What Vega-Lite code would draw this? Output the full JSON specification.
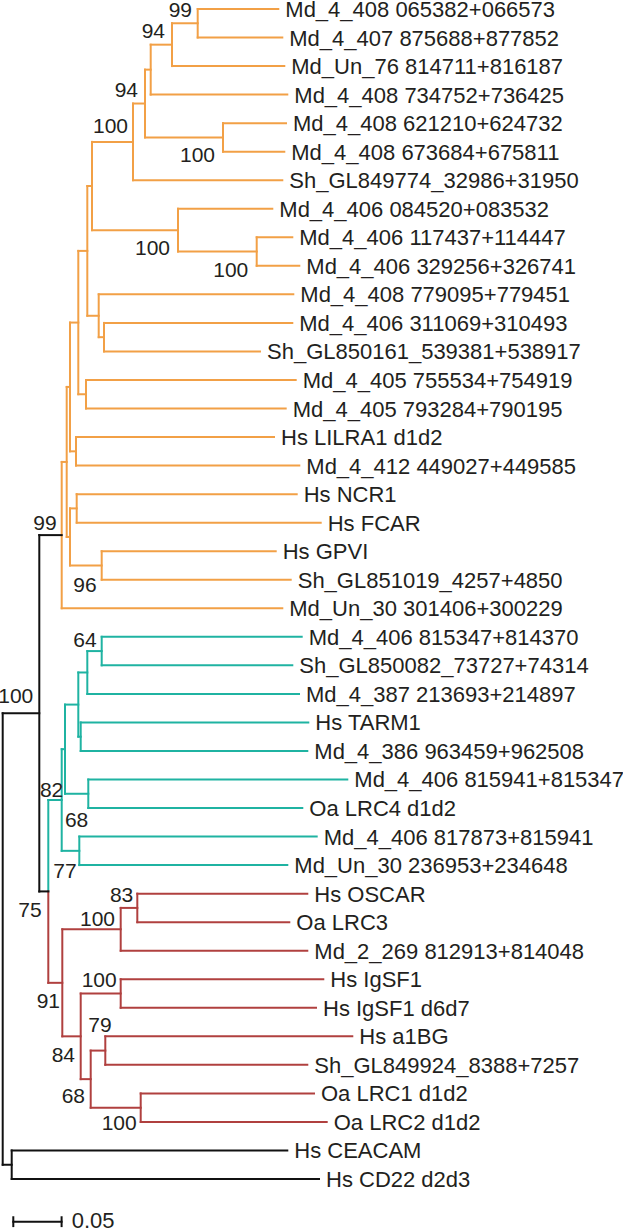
{
  "$schema": "https://vega.github.io/schema/vega-lite/v6.json",
  "width": 623,
  "height": 1228,
  "padding": 0,
  "autosize": {"type": "none"},
  "background": "white",
  "config": {"view": {"stroke": null}},
  "datasets": {
    "seg": [
      {"x": 0.20186, "x2": 0.28530, "y": 1, "y2": 1, "c": "o"},
      {"x": 0.20186, "x2": 0.28944, "y": 2, "y2": 2, "c": "o"},
      {"x": 0.17526, "x2": 0.29151, "y": 3, "y2": 3, "c": "o"},
      {"x": 0.15321, "x2": 0.29462, "y": 4, "y2": 4, "c": "o"},
      {"x": 0.22805, "x2": 0.29327, "y": 5, "y2": 5, "c": "o"},
      {"x": 0.22805, "x2": 0.29151, "y": 6, "y2": 6, "c": "o"},
      {"x": 0.13489, "x2": 0.28944, "y": 7, "y2": 7, "c": "o"},
      {"x": 0.18147, "x2": 0.27909, "y": 8, "y2": 8, "c": "o"},
      {"x": 0.26294, "x2": 0.29979, "y": 9, "y2": 9, "c": "o"},
      {"x": 0.26294, "x2": 0.30704, "y": 10, "y2": 10, "c": "o"},
      {"x": 0.09938, "x2": 0.30083, "y": 11, "y2": 11, "c": "o"},
      {"x": 0.10487, "x2": 0.29979, "y": 12, "y2": 12, "c": "o"},
      {"x": 0.10487, "x2": 0.26636, "y": 13, "y2": 13, "c": "o"},
      {"x": 0.08623, "x2": 0.30331, "y": 14, "y2": 14, "c": "o"},
      {"x": 0.08623, "x2": 0.29296, "y": 15, "y2": 15, "c": "o"},
      {"x": 0.07588, "x2": 0.28085, "y": 16, "y2": 16, "c": "o"},
      {"x": 0.07588, "x2": 0.30704, "y": 17, "y2": 17, "c": "o"},
      {"x": 0.07660, "x2": 0.30435, "y": 18, "y2": 18, "c": "o"},
      {"x": 0.07660, "x2": 0.32919, "y": 19, "y2": 19, "c": "o"},
      {"x": 0.10248, "x2": 0.28261, "y": 20, "y2": 20, "c": "o"},
      {"x": 0.10248, "x2": 0.29814, "y": 21, "y2": 21, "c": "o"},
      {"x": 0.06108, "x2": 0.28944, "y": 22, "y2": 22, "c": "o"},
      {"x": 0.17526, "x2": 0.20186, "y": 1.5, "y2": 1.5, "c": "o"},
      {"x": 0.15321, "x2": 0.17526, "y": 2.25, "y2": 2.25, "c": "o"},
      {"x": 0.14731, "x2": 0.15321, "y": 3.125, "y2": 3.125, "c": "o"},
      {"x": 0.14731, "x2": 0.22805, "y": 5.5, "y2": 5.5, "c": "o"},
      {"x": 0.13489, "x2": 0.14731, "y": 4.3125, "y2": 4.3125, "c": "o"},
      {"x": 0.09244, "x2": 0.13489, "y": 5.65625, "y2": 5.65625, "c": "o"},
      {"x": 0.18147, "x2": 0.26294, "y": 9.5, "y2": 9.5, "c": "o"},
      {"x": 0.09244, "x2": 0.18147, "y": 8.75, "y2": 8.75, "c": "o"},
      {"x": 0.08758, "x2": 0.09244, "y": 7.203125, "y2": 7.203125, "c": "o"},
      {"x": 0.09938, "x2": 0.10487, "y": 12.5, "y2": 12.5, "c": "o"},
      {"x": 0.08758, "x2": 0.09938, "y": 11.75, "y2": 11.75, "c": "o"},
      {"x": 0.07826, "x2": 0.08758, "y": 9.4765625, "y2": 9.4765625, "c": "o"},
      {"x": 0.07826, "x2": 0.08623, "y": 14.5, "y2": 14.5, "c": "o"},
      {"x": 0.06967, "x2": 0.07826, "y": 11.98828, "y2": 11.98828, "c": "o"},
      {"x": 0.06967, "x2": 0.07588, "y": 16.5, "y2": 16.5, "c": "o"},
      {"x": 0.06625, "x2": 0.06967, "y": 14.24414, "y2": 14.24414, "c": "o"},
      {"x": 0.06967, "x2": 0.07660, "y": 18.5, "y2": 18.5, "c": "o"},
      {"x": 0.06967, "x2": 0.10248, "y": 20.5, "y2": 20.5, "c": "o"},
      {"x": 0.06625, "x2": 0.06967, "y": 19.5, "y2": 19.5, "c": "o"},
      {"x": 0.06108, "x2": 0.06625, "y": 16.87207, "y2": 16.87207, "c": "o"},
      {"x": 0.20186, "x2": 0.20186, "y": 1, "y2": 2, "c": "o"},
      {"x": 0.17526, "x2": 0.17526, "y": 1.5, "y2": 3, "c": "o"},
      {"x": 0.15321, "x2": 0.15321, "y": 2.25, "y2": 4, "c": "o"},
      {"x": 0.22805, "x2": 0.22805, "y": 5, "y2": 6, "c": "o"},
      {"x": 0.14731, "x2": 0.14731, "y": 3.125, "y2": 5.5, "c": "o"},
      {"x": 0.13489, "x2": 0.13489, "y": 4.3125, "y2": 7, "c": "o"},
      {"x": 0.26294, "x2": 0.26294, "y": 9, "y2": 10, "c": "o"},
      {"x": 0.18147, "x2": 0.18147, "y": 8, "y2": 9.5, "c": "o"},
      {"x": 0.09244, "x2": 0.09244, "y": 5.65625, "y2": 8.75, "c": "o"},
      {"x": 0.10487, "x2": 0.10487, "y": 12, "y2": 13, "c": "o"},
      {"x": 0.09938, "x2": 0.09938, "y": 11, "y2": 12.5, "c": "o"},
      {"x": 0.08758, "x2": 0.08758, "y": 7.203125, "y2": 11.75, "c": "o"},
      {"x": 0.08623, "x2": 0.08623, "y": 14, "y2": 15, "c": "o"},
      {"x": 0.07826, "x2": 0.07826, "y": 9.4765625, "y2": 14.5, "c": "o"},
      {"x": 0.07588, "x2": 0.07588, "y": 16, "y2": 17, "c": "o"},
      {"x": 0.06967, "x2": 0.06967, "y": 11.98828, "y2": 16.5, "c": "o"},
      {"x": 0.07660, "x2": 0.07660, "y": 18, "y2": 19, "c": "o"},
      {"x": 0.10248, "x2": 0.10248, "y": 20, "y2": 21, "c": "o"},
      {"x": 0.06967, "x2": 0.06967, "y": 18.5, "y2": 20.5, "c": "o"},
      {"x": 0.06625, "x2": 0.06625, "y": 14.24414, "y2": 19.5, "c": "o"},
      {"x": 0.06108, "x2": 0.06108, "y": 16.87207, "y2": 22, "c": "o"},
      {"x": 0.10248, "x2": 0.30952, "y": 23, "y2": 23, "c": "t"},
      {"x": 0.10248, "x2": 0.29979, "y": 24, "y2": 24, "c": "t"},
      {"x": 0.08758, "x2": 0.30673, "y": 25, "y2": 25, "c": "t"},
      {"x": 0.08075, "x2": 0.31636, "y": 26, "y2": 26, "c": "t"},
      {"x": 0.08075, "x2": 0.31532, "y": 27, "y2": 27, "c": "t"},
      {"x": 0.08861, "x2": 0.35673, "y": 28, "y2": 28, "c": "t"},
      {"x": 0.08861, "x2": 0.31014, "y": 29, "y2": 29, "c": "t"},
      {"x": 0.07930, "x2": 0.32505, "y": 30, "y2": 30, "c": "t"},
      {"x": 0.07930, "x2": 0.29462, "y": 31, "y2": 31, "c": "t"},
      {"x": 0.08758, "x2": 0.10248, "y": 23.5, "y2": 23.5, "c": "t"},
      {"x": 0.07826, "x2": 0.08758, "y": 24.25, "y2": 24.25, "c": "t"},
      {"x": 0.07826, "x2": 0.08075, "y": 26.5, "y2": 26.5, "c": "t"},
      {"x": 0.06449, "x2": 0.07826, "y": 25.375, "y2": 25.375, "c": "t"},
      {"x": 0.06449, "x2": 0.08861, "y": 28.5, "y2": 28.5, "c": "t"},
      {"x": 0.06108, "x2": 0.06449, "y": 26.9375, "y2": 26.9375, "c": "t"},
      {"x": 0.06108, "x2": 0.07930, "y": 30.5, "y2": 30.5, "c": "t"},
      {"x": 0.04720, "x2": 0.06108, "y": 28.71875, "y2": 28.71875, "c": "t"},
      {"x": 0.10248, "x2": 0.10248, "y": 23, "y2": 24, "c": "t"},
      {"x": 0.08758, "x2": 0.08758, "y": 23.5, "y2": 25, "c": "t"},
      {"x": 0.08075, "x2": 0.08075, "y": 26, "y2": 27, "c": "t"},
      {"x": 0.07826, "x2": 0.07826, "y": 24.25, "y2": 26.5, "c": "t"},
      {"x": 0.08861, "x2": 0.08861, "y": 28, "y2": 29, "c": "t"},
      {"x": 0.06449, "x2": 0.06449, "y": 25.375, "y2": 28.5, "c": "t"},
      {"x": 0.07930, "x2": 0.07930, "y": 30, "y2": 31, "c": "t"},
      {"x": 0.06108, "x2": 0.06108, "y": 26.9375, "y2": 30.5, "c": "t"},
      {"x": 0.04720, "x2": 0.04720, "y": 28.71875, "y2": 31.921875, "c": "t"},
      {"x": 0.13934, "x2": 0.31532, "y": 32, "y2": 32, "c": "r"},
      {"x": 0.13934, "x2": 0.29669, "y": 33, "y2": 33, "c": "r"},
      {"x": 0.12215, "x2": 0.31532, "y": 34, "y2": 34, "c": "r"},
      {"x": 0.12215, "x2": 0.33188, "y": 35, "y2": 35, "c": "r"},
      {"x": 0.12215, "x2": 0.32433, "y": 36, "y2": 36, "c": "r"},
      {"x": 0.10621, "x2": 0.36190, "y": 37, "y2": 37, "c": "r"},
      {"x": 0.10621, "x2": 0.31532, "y": 38, "y2": 38, "c": "r"},
      {"x": 0.14286, "x2": 0.32226, "y": 39, "y2": 39, "c": "r"},
      {"x": 0.14286, "x2": 0.33540, "y": 40, "y2": 40, "c": "r"},
      {"x": 0.12215, "x2": 0.13934, "y": 32.5, "y2": 32.5, "c": "r"},
      {"x": 0.06170, "x2": 0.12215, "y": 33.25, "y2": 33.25, "c": "r"},
      {"x": 0.08075, "x2": 0.12215, "y": 35.5, "y2": 35.5, "c": "r"},
      {"x": 0.09110, "x2": 0.10621, "y": 37.5, "y2": 37.5, "c": "r"},
      {"x": 0.09110, "x2": 0.14286, "y": 39.5, "y2": 39.5, "c": "r"},
      {"x": 0.08075, "x2": 0.09110, "y": 38.5, "y2": 38.5, "c": "r"},
      {"x": 0.06170, "x2": 0.08075, "y": 37, "y2": 37, "c": "r"},
      {"x": 0.04720, "x2": 0.06170, "y": 35.125, "y2": 35.125, "c": "r"},
      {"x": 0.13934, "x2": 0.13934, "y": 32, "y2": 33, "c": "r"},
      {"x": 0.12215, "x2": 0.12215, "y": 32.5, "y2": 34, "c": "r"},
      {"x": 0.12215, "x2": 0.12215, "y": 35, "y2": 36, "c": "r"},
      {"x": 0.10621, "x2": 0.10621, "y": 37, "y2": 38, "c": "r"},
      {"x": 0.14286, "x2": 0.14286, "y": 39, "y2": 40, "c": "r"},
      {"x": 0.09110, "x2": 0.09110, "y": 37.5, "y2": 39.5, "c": "r"},
      {"x": 0.08075, "x2": 0.08075, "y": 35.5, "y2": 38.5, "c": "r"},
      {"x": 0.06170, "x2": 0.06170, "y": 33.25, "y2": 37, "c": "r"},
      {"x": 0.04720, "x2": 0.04720, "y": 31.921875, "y2": 35.125, "c": "r"},
      {"x": 0.03789, "x2": 0.06108, "y": 19.43604, "y2": 19.43604, "c": "k"},
      {"x": 0.03789, "x2": 0.04720, "y": 31.921875, "y2": 31.921875, "c": "k"},
      {"x": 0.03789, "x2": 0.03789, "y": 19.43604, "y2": 31.921875, "c": "k"},
      {"x": 0, "x2": 0.03789, "y": 25.67896, "y2": 25.67896, "c": "k"},
      {"x": 0, "x2": 0.00932, "y": 41.5, "y2": 41.5, "c": "k"},
      {"x": 0, "x2": 0, "y": 25.67896, "y2": 41.5, "c": "k"},
      {"x": 0.00932, "x2": 0.00932, "y": 41, "y2": 42, "c": "k"},
      {"x": 0.00932, "x2": 0.29462, "y": 41, "y2": 41, "c": "k"},
      {"x": 0.00932, "x2": 0.32743, "y": 42, "y2": 42, "c": "k"},
      {"x": 0.01097, "x2": 0.06097, "y": 43.496, "y2": 43.496, "c": "k"},
      {"x": 0.01097, "x2": 0.01097, "y": 43.34, "y2": 43.65, "c": "k"},
      {"x": 0.06097, "x2": 0.06097, "y": 43.34, "y2": 43.65, "c": "k"}
    ],
    "leaves": [
      {"name": "Md_4_408 065382+066573", "x": 0.28530, "y": 1},
      {"name": "Md_4_407 875688+877852", "x": 0.28944, "y": 2},
      {"name": "Md_Un_76 814711+816187", "x": 0.29151, "y": 3},
      {"name": "Md_4_408 734752+736425", "x": 0.29462, "y": 4},
      {"name": "Md_4_408 621210+624732", "x": 0.29327, "y": 5},
      {"name": "Md_4_408 673684+675811", "x": 0.29151, "y": 6},
      {"name": "Sh_GL849774_32986+31950", "x": 0.28944, "y": 7},
      {"name": "Md_4_406 084520+083532", "x": 0.27909, "y": 8},
      {"name": "Md_4_406 117437+114447", "x": 0.29979, "y": 9},
      {"name": "Md_4_406 329256+326741", "x": 0.30704, "y": 10},
      {"name": "Md_4_408 779095+779451", "x": 0.30083, "y": 11},
      {"name": "Md_4_406 311069+310493", "x": 0.29979, "y": 12},
      {"name": "Sh_GL850161_539381+538917", "x": 0.26636, "y": 13},
      {"name": "Md_4_405 755534+754919", "x": 0.30331, "y": 14},
      {"name": "Md_4_405 793284+790195", "x": 0.29296, "y": 15},
      {"name": "Hs LILRA1 d1d2", "x": 0.28085, "y": 16},
      {"name": "Md_4_412 449027+449585", "x": 0.30704, "y": 17},
      {"name": "Hs NCR1", "x": 0.30435, "y": 18},
      {"name": "Hs FCAR", "x": 0.32919, "y": 19},
      {"name": "Hs GPVI", "x": 0.28261, "y": 20},
      {"name": "Sh_GL851019_4257+4850", "x": 0.29814, "y": 21},
      {"name": "Md_Un_30 301406+300229", "x": 0.28944, "y": 22},
      {"name": "Md_4_406 815347+814370", "x": 0.30952, "y": 23},
      {"name": "Sh_GL850082_73727+74314", "x": 0.29979, "y": 24},
      {"name": "Md_4_387 213693+214897", "x": 0.30673, "y": 25},
      {"name": "Hs TARM1", "x": 0.31636, "y": 26},
      {"name": "Md_4_386 963459+962508", "x": 0.31532, "y": 27},
      {"name": "Md_4_406 815941+815347", "x": 0.35673, "y": 28},
      {"name": "Oa LRC4 d1d2", "x": 0.31014, "y": 29},
      {"name": "Md_4_406 817873+815941", "x": 0.32505, "y": 30},
      {"name": "Md_Un_30 236953+234648", "x": 0.29462, "y": 31},
      {"name": "Hs OSCAR", "x": 0.31532, "y": 32},
      {"name": "Oa LRC3", "x": 0.29669, "y": 33},
      {"name": "Md_2_269 812913+814048", "x": 0.31532, "y": 34},
      {"name": "Hs IgSF1", "x": 0.33188, "y": 35},
      {"name": "Hs IgSF1 d6d7", "x": 0.32433, "y": 36},
      {"name": "Hs a1BG", "x": 0.36190, "y": 37},
      {"name": "Sh_GL849924_8388+7257", "x": 0.31532, "y": 38},
      {"name": "Oa LRC1 d1d2", "x": 0.32226, "y": 39},
      {"name": "Oa LRC2 d1d2", "x": 0.33540, "y": 40},
      {"name": "Hs CEACAM", "x": 0.29462, "y": 41},
      {"name": "Hs CD22 d2d3", "x": 0.32743, "y": 42},
      {"name": "0.05", "x": 0.06418, "y": 43.45}
    ],
    "support": [
      {"t": "99", "x": 0.19596, "y": 1.2698},
      {"t": "94", "x": 0.16801, "y": 2.0267},
      {"t": "94", "x": 0.14006, "y": 4.0837},
      {"t": "100", "x": 0.12971, "y": 5.3558},
      {"t": "100", "x": 0.21977, "y": 6.3509},
      {"t": "100", "x": 0.17319, "y": 9.6204},
      {"t": "100", "x": 0.25424, "y": 10.3808},
      {"t": "96", "x": 0.09731, "y": 21.4190},
      {"t": "99", "x": 0.05590, "y": 19.2570},
      {"t": "64", "x": 0.09731, "y": 23.3464},
      {"t": "82", "x": 0.06273, "y": 28.6028},
      {"t": "68", "x": 0.08861, "y": 29.6541},
      {"t": "77", "x": 0.07660, "y": 31.4621},
      {"t": "100", "x": 0.03168, "y": 25.3297},
      {"t": "83", "x": 0.13520, "y": 32.2823},
      {"t": "75", "x": 0.04037, "y": 32.8009},
      {"t": "100", "x": 0.11625, "y": 33.1338},
      {"t": "100", "x": 0.11801, "y": 35.2712},
      {"t": "91", "x": 0.05932, "y": 36.0180},
      {"t": "79", "x": 0.11284, "y": 36.8379},
      {"t": "84", "x": 0.07484, "y": 37.8892},
      {"t": "68", "x": 0.08520, "y": 39.3467},
      {"t": "100", "x": 0.13872, "y": 40.2825}
    ]
  },
  "layer": [
    {
      "data": {"name": "seg"},
      "mark": {"type": "rule", "strokeWidth": 2, "strokeCap": "square"},
      "encoding": {
        "x": {"field": "x", "type": "quantitative", "axis": null,
              "scale": {"domain": [-0.002795, 0.642133], "nice": false, "zero": false}},
        "x2": {"field": "x2"},
        "y": {"field": "y", "type": "quantitative", "axis": null,
              "scale": {"domain": [0.68462, 43.7165], "nice": false, "zero": false, "reverse": true}},
        "y2": {"field": "y2"},
        "color": {"field": "c", "type": "nominal", "legend": null,
                  "scale": {"domain": ["o", "t", "r", "k"], "range": ["#F2A046", "#1FB3A2", "#B0403F", "#111111"]}}
      }
    },
    {
      "data": {"name": "leaves"},
      "mark": {"type": "text", "align": "left", "baseline": "middle", "dx": 7, "dy": 1,
               "fontSize": 22, "font": "Liberation Sans", "color": "#231F20"},
      "encoding": {
        "x": {"field": "x", "type": "quantitative"},
        "y": {"field": "y", "type": "quantitative"},
        "text": {"field": "name"}
      }
    },
    {
      "data": {"name": "support"},
      "mark": {"type": "text", "align": "right", "baseline": "alphabetic",
               "fontSize": 21, "font": "Liberation Sans", "color": "#231F20"},
      "encoding": {
        "x": {"field": "x", "type": "quantitative"},
        "y": {"field": "y", "type": "quantitative"},
        "text": {"field": "t"}
      }
    }
  ]
}
